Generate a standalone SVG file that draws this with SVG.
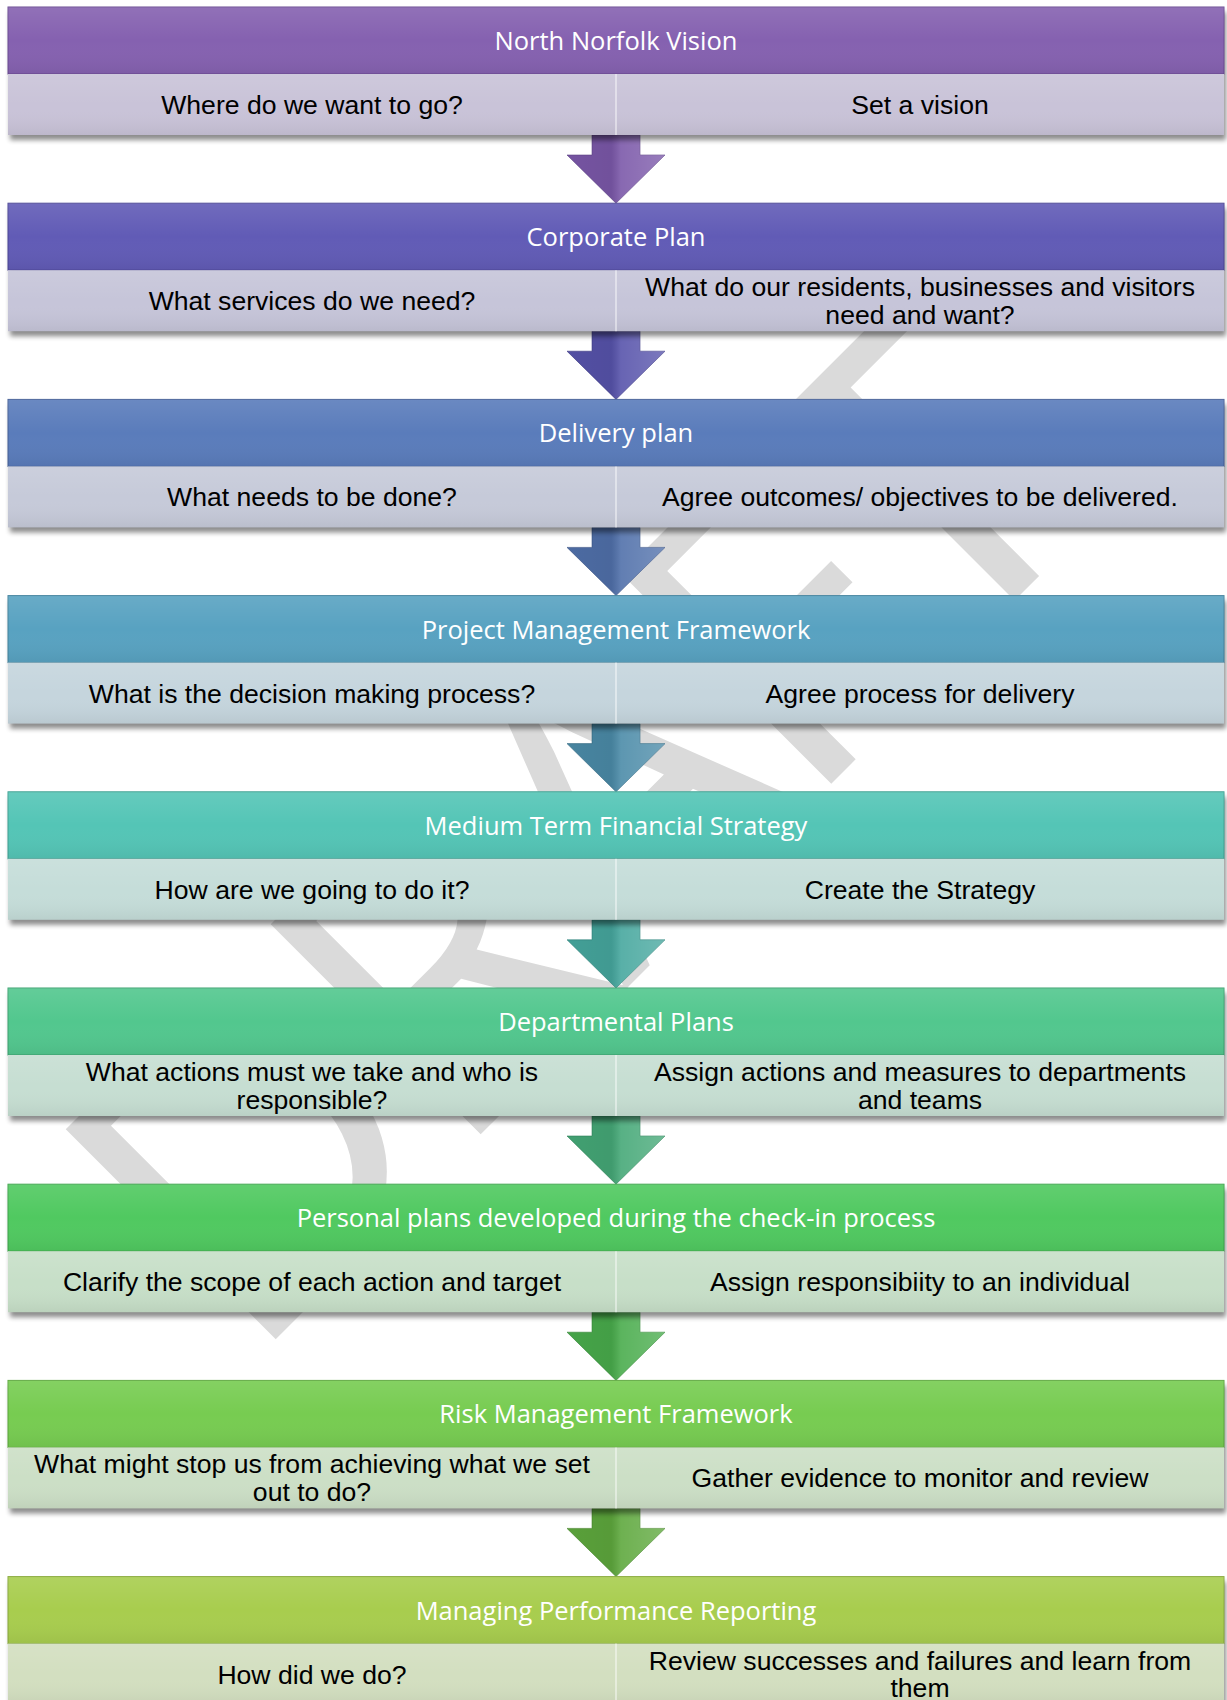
<svg xmlns="http://www.w3.org/2000/svg" width="1227" height="1700" viewBox="0 0 1227 1700">
<defs>
<linearGradient id="gloss" x1="0" y1="0" x2="0" y2="1">
<stop offset="0" stop-color="#fff" stop-opacity="0.10"/>
<stop offset="0.5" stop-color="#fff" stop-opacity="0"/>
<stop offset="1" stop-color="#000" stop-opacity="0.06"/>
</linearGradient>
<linearGradient id="bevel" x1="0" y1="0" x2="1" y2="0">
<stop offset="0" stop-color="#000" stop-opacity="0.05"/>
<stop offset="0.45" stop-color="#000" stop-opacity="0.08"/>
<stop offset="0.55" stop-color="#fff" stop-opacity="0.10"/>
<stop offset="1" stop-color="#fff" stop-opacity="0.22"/>
</linearGradient>
<filter id="shadow" x="-5%" y="-20%" width="110%" height="150%">
<feGaussianBlur stdDeviation="2.5"/>
</filter>
<g id="frame">
<rect x="10" y="5" width="1216" height="128" fill="#000" opacity="0.45" filter="url(#shadow)"/>
</g>
</defs>
<style>
.wm{font-family:"Open Sans","Liberation Sans",sans-serif;font-size:416px;font-weight:400;fill:#dadada;letter-spacing:-12px}
.hd{stroke-width:1}
.hdt{font-family:"Open Sans","Liberation Sans",sans-serif;font-size:25.5px;fill:#fff;text-anchor:middle}
.sbt{font-family:"Liberation Sans",Arial,sans-serif;font-size:26.6px;fill:#000;text-anchor:middle}
.div{stroke:#fff;stroke-opacity:0.6;stroke-width:1.5}
.gl{fill:url(#gloss)}
.arrow{stroke-width:1;stroke-opacity:0.6}
.bv{fill:url(#bevel)}
</style>
<rect width="1227" height="1700" fill="#fff"/>
<g id="watermark">
<text class="wm" transform="translate(247,1368) rotate(-45)">DRAFT</text>
</g>

<g id="connectors">
<g id="a1"><polygon class="arrow" fill="#7B58A9" stroke="#5e4385" points="592,135 640,135 640,155 665,155 616,203.2 567,155 592,155"/><polygon class="bv" points="592,135 640,135 640,155 665,155 616,203.2 567,155 592,155"/></g>
<g id="a2"><polygon class="arrow" fill="#5753AB" stroke="#403c86" points="592,331.2 640,331.2 640,351.2 665,351.2 616,399.4 567,351.2 592,351.2"/><polygon class="bv" points="592,331.2 640,331.2 640,351.2 665,351.2 616,399.4 567,351.2 592,351.2"/></g>
<g id="a3"><polygon class="arrow" fill="#5070AA" stroke="#3a5486" points="592,527.4 640,527.4 640,547.4 665,547.4 616,595.6 567,547.4 592,547.4"/><polygon class="bv" points="592,527.4 640,527.4 640,547.4 665,547.4 616,595.6 567,547.4 592,547.4"/></g>
<g id="a4"><polygon class="arrow" fill="#4B8BA8" stroke="#356a84" points="592,723.6 640,723.6 640,743.6 665,743.6 616,791.8 567,743.6 592,743.6"/><polygon class="bv" points="592,723.6 640,723.6 640,743.6 665,743.6 616,791.8 567,743.6 592,743.6"/></g>
<g id="a5"><polygon class="arrow" fill="#46A79E" stroke="#31837b" points="592,919.8 640,919.8 640,939.8 665,939.8 616,988 567,939.8 592,939.8"/><polygon class="bv" points="592,919.8 640,919.8 640,939.8 665,939.8 616,988 567,939.8 592,939.8"/></g>
<g id="a6"><polygon class="arrow" fill="#45A877" stroke="#31845a" points="592,1116 640,1116 640,1136 665,1136 616,1184.2 567,1136 592,1136"/><polygon class="bv" points="592,1116 640,1116 640,1136 665,1136 616,1184.2 567,1136 592,1136"/></g>
<g id="a7"><polygon class="arrow" fill="#49AC4C" stroke="#358838" points="592,1312.2 640,1312.2 640,1332.2 665,1332.2 616,1380.4 567,1332.2 592,1332.2"/><polygon class="bv" points="592,1312.2 640,1312.2 640,1332.2 665,1332.2 616,1380.4 567,1332.2 592,1332.2"/></g>
<g id="a8"><polygon class="arrow" fill="#5EA83D" stroke="#47852b" points="592,1508.4 640,1508.4 640,1528.4 665,1528.4 616,1576.6 567,1528.4 592,1528.4"/><polygon class="bv" points="592,1508.4 640,1508.4 640,1528.4 665,1528.4 616,1576.6 567,1528.4 592,1528.4"/></g>
</g>

<g id="n1" transform="translate(0,7)">
<use href="#frame"/>
<rect x="8" y="0" width="1216" height="67" fill="#8561B0" stroke="#6a4a92" class="hd"/><rect class="gl" x="8" y="0" width="1216" height="67"/>
<rect x="8" y="67" width="1216" height="61" fill="#C9C3D8"/><rect class="gl" x="8" y="67" width="1216" height="61"/>
<line class="div" x1="616" y1="67" x2="616" y2="128"/>
<text class="hdt" x="616" y="43">North Norfolk Vision</text>
<text class="sbt" x="312" y="107">Where do we want to go?</text>
<text class="sbt" x="920" y="107">Set a vision</text>
</g>

<g id="n2" transform="translate(0,203.2)">
<use href="#frame"/>
<rect x="8" y="0" width="1216" height="67" fill="#615BB6" stroke="#4a4594" class="hd"/><rect class="gl" x="8" y="0" width="1216" height="67"/>
<rect x="8" y="67" width="1216" height="61" fill="#C6C5D9"/><rect class="gl" x="8" y="67" width="1216" height="61"/>
<line class="div" x1="616" y1="67" x2="616" y2="128"/>
<text class="hdt" x="616" y="43">Corporate Plan</text>
<text class="sbt" x="312" y="107">What services do we need?</text>
<text class="sbt" x="920" y="93">What do our residents, businesses and visitors</text>
<text class="sbt" x="920" y="120.5">need and want?</text>
</g>

<g id="n3" transform="translate(0,399.4)">
<use href="#frame"/>
<rect x="8" y="0" width="1216" height="67" fill="#5A7CBB" stroke="#445f96" class="hd"/><rect class="gl" x="8" y="0" width="1216" height="67"/>
<rect x="8" y="67" width="1216" height="61" fill="#C6CAD9"/><rect class="gl" x="8" y="67" width="1216" height="61"/>
<line class="div" x1="616" y1="67" x2="616" y2="128"/>
<text class="hdt" x="616" y="43">Delivery plan</text>
<text class="sbt" x="312" y="107">What needs to be done?</text>
<text class="sbt" x="920" y="107">Agree outcomes/ objectives to be delivered.</text>
</g>

<g id="n4" transform="translate(0,595.6)">
<use href="#frame"/>
<rect x="8" y="0" width="1216" height="67" fill="#58A2C1" stroke="#42819c" class="hd"/><rect class="gl" x="8" y="0" width="1216" height="67"/>
<rect x="8" y="67" width="1216" height="61" fill="#C5D5DD"/><rect class="gl" x="8" y="67" width="1216" height="61"/>
<line class="div" x1="616" y1="67" x2="616" y2="128"/>
<text class="hdt" x="616" y="43">Project Management Framework</text>
<text class="sbt" x="312" y="107">What is the decision making process?</text>
<text class="sbt" x="920" y="107">Agree process for delivery</text>
</g>

<g id="n5" transform="translate(0,791.8)">
<use href="#frame"/>
<rect x="8" y="0" width="1216" height="67" fill="#54C5B6" stroke="#3ea092" class="hd"/><rect class="gl" x="8" y="0" width="1216" height="67"/>
<rect x="8" y="67" width="1216" height="61" fill="#C5DDD9"/><rect class="gl" x="8" y="67" width="1216" height="61"/>
<line class="div" x1="616" y1="67" x2="616" y2="128"/>
<text class="hdt" x="616" y="43">Medium Term Financial Strategy</text>
<text class="sbt" x="312" y="107">How are we going to do it?</text>
<text class="sbt" x="920" y="107">Create the Strategy</text>
</g>

<g id="n6" transform="translate(0,988)">
<use href="#frame"/>
<rect x="8" y="0" width="1216" height="67" fill="#52C78E" stroke="#3da270" class="hd"/><rect class="gl" x="8" y="0" width="1216" height="67"/>
<rect x="8" y="67" width="1216" height="61" fill="#C6DED2"/><rect class="gl" x="8" y="67" width="1216" height="61"/>
<line class="div" x1="616" y1="67" x2="616" y2="128"/>
<text class="hdt" x="616" y="43">Departmental Plans</text>
<text class="sbt" x="312" y="93">What actions must we take and who is</text>
<text class="sbt" x="312" y="120.5">responsible?</text>
<text class="sbt" x="920" y="93">Assign actions and measures to departments</text>
<text class="sbt" x="920" y="120.5">and teams</text>
</g>

<g id="n7" transform="translate(0,1184.2)">
<use href="#frame"/>
<rect x="8" y="0" width="1216" height="67" fill="#50C960" stroke="#3ca44a" class="hd"/><rect class="gl" x="8" y="0" width="1216" height="67"/>
<rect x="8" y="67" width="1216" height="61" fill="#C7DFC8"/><rect class="gl" x="8" y="67" width="1216" height="61"/>
<line class="div" x1="616" y1="67" x2="616" y2="128"/>
<text class="hdt" x="616" y="43">Personal plans developed during the check-in process</text>
<text class="sbt" x="312" y="107">Clarify the scope of each action and target</text>
<text class="sbt" x="920" y="107">Assign responsibiity to an individual</text>
</g>

<g id="n8" transform="translate(0,1380.4)">
<use href="#frame"/>
<rect x="8" y="0" width="1216" height="67" fill="#77CC51" stroke="#5ba63b" class="hd"/><rect class="gl" x="8" y="0" width="1216" height="67"/>
<rect x="8" y="67" width="1216" height="61" fill="#CCDFC6"/><rect class="gl" x="8" y="67" width="1216" height="61"/>
<line class="div" x1="616" y1="67" x2="616" y2="128"/>
<text class="hdt" x="616" y="43">Risk Management Framework</text>
<text class="sbt" x="312" y="93">What might stop us from achieving what we set</text>
<text class="sbt" x="312" y="120.5">out to do?</text>
<text class="sbt" x="920" y="107">Gather evidence to monitor and review</text>
</g>

<g id="n9" transform="translate(0,1576.6)">
<use href="#frame"/>
<rect x="8" y="0" width="1216" height="67" fill="#A8CD4E" stroke="#87a83a" class="hd"/><rect class="gl" x="8" y="0" width="1216" height="67"/>
<rect x="8" y="67" width="1216" height="61" fill="#D3DFC0"/><rect class="gl" x="8" y="67" width="1216" height="61"/>
<line class="div" x1="616" y1="67" x2="616" y2="128"/>
<text class="hdt" x="616" y="43">Managing Performance Reporting</text>
<text class="sbt" x="312" y="107">How did we do?</text>
<text class="sbt" x="920" y="93">Review successes and failures and learn from</text>
<text class="sbt" x="920" y="120.5">them</text>
</g>
</svg>
